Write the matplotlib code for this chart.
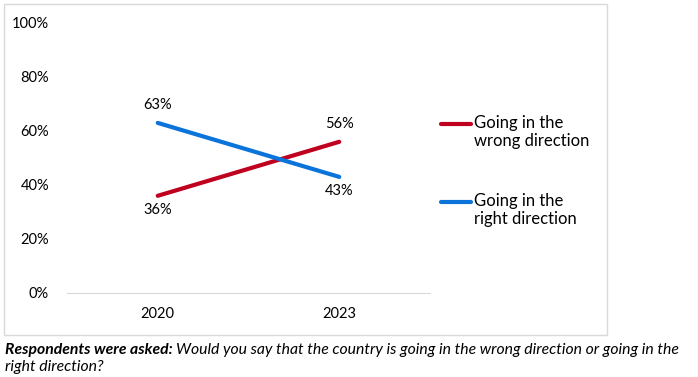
import matplotlib
matplotlib.use("Agg")
import matplotlib.pyplot as plt
from matplotlib.patches import Rectangle

years = ["2020", "2023"]
wrong = [36, 56]
right = [63, 43]
series_names = ["Going in the\nwrong direction", "Going in the\nright direction"]
yticks = [0, 20, 40, 60, 80, 100]
red = "#c0001f"
blue = "#0a74da"

plt.rcParams['font.family'] = ['Lato', 'DejaVu Sans']
W, H = 698, 377
fig = plt.figure(figsize=(W/100, H/100), dpi=100)

fig.patches.append(Rectangle((4/W, 1-335/H), 603/W, 331/H, transform=fig.transFigure,
                             fill=False, edgecolor="#d9d9d9", linewidth=1))

ax = fig.add_axes([67/W, 1-293/H, 363/W, 270/H])
x = [0, 1]
ax.plot(x, wrong, color=red, lw=3, solid_capstyle='round')
ax.plot(x, right, color=blue, lw=3, solid_capstyle='round')
ax.set_xlim(-0.5, 1.5)
ax.set_ylim(0, 100)
ax.set_xticks(x)
ax.set_xticklabels(years, fontsize=10.5)
ax.set_yticks(yticks)
ax.set_yticklabels([f"{v}%" for v in yticks], fontsize=10.5)
for s in ["top", "right", "left"]:
    ax.spines[s].set_visible(False)
ax.spines["bottom"].set_color("#d9d9d9")
ax.tick_params(length=0)
ax.tick_params(axis='y', pad=13)
ax.tick_params(axis='x', pad=10)

for xi, w, r in zip(x, wrong, right):
    if w > r:
        ax.annotate(f"{w}%", (xi, w), xytext=(0, 8), textcoords="offset points", ha="center", va="bottom", fontsize=10.5)
        ax.annotate(f"{r}%", (xi, r), xytext=(0, -5), textcoords="offset points", ha="center", va="top", fontsize=10.5)
    else:
        ax.annotate(f"{r}%", (xi, r), xytext=(0, 8), textcoords="offset points", ha="center", va="bottom", fontsize=10.5)
        ax.annotate(f"{w}%", (xi, w), xytext=(0, -5), textcoords="offset points", ha="center", va="top", fontsize=10.5)

# legend
for yy, col, name in [(124, red, series_names[0]), (202, blue, series_names[1])]:
    fig.lines.append(plt.Line2D([441/W, 471/W], [1-yy/H, 1-yy/H], transform=fig.transFigure,
                                color=col, lw=3, solid_capstyle='round'))
    fig.text(474/W, 1-(yy-9)/H, name, fontsize=12, va="top", ha="left", linespacing=1.15)

# footnote
t1 = fig.text(5/W, 1-350/H, "Respondents were asked:", fontsize=11.3, fontweight="bold",
              fontstyle="italic", va="center", ha="left")
fig.canvas.draw()
bb = t1.get_window_extent()
fig.text(bb.x1/W + 3/W, 1-350/H, "Would you say that the country is going in the wrong direction or going in the",
         fontsize=11.3, fontstyle="italic", va="center", ha="left")
fig.text(5/W, 1-367/H, "right direction?", fontsize=11.3, fontstyle="italic", va="center", ha="left")

fig.savefig("out.png", dpi=100)
